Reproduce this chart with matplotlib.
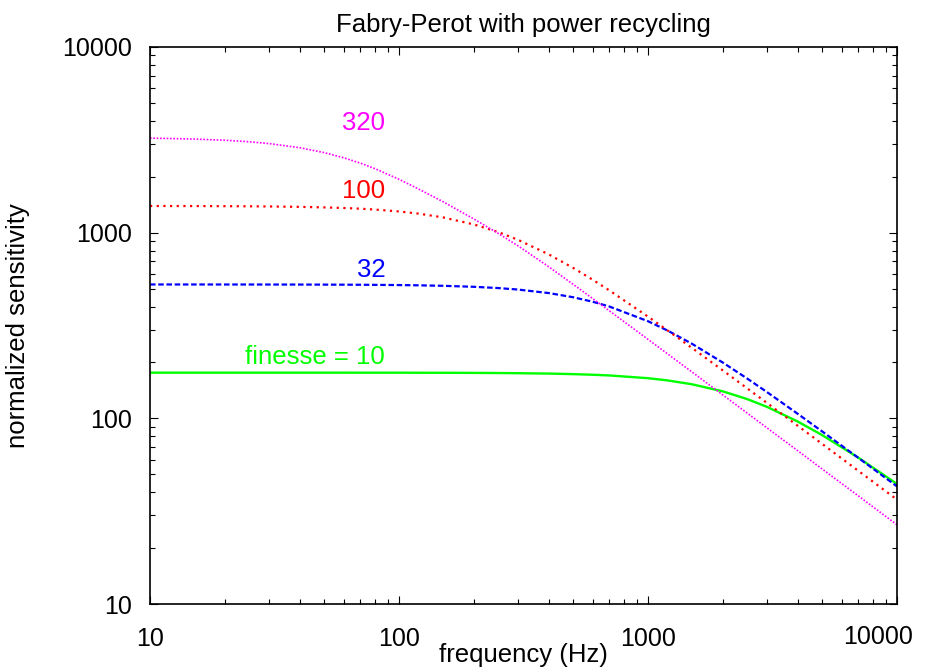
import numpy as np
import matplotlib
matplotlib.use('Agg')
import matplotlib.pyplot as plt
from matplotlib.ticker import LogLocator, FixedLocator, FixedFormatter, NullFormatter

plt.rcParams['font.family'] = ['Liberation Sans', 'DejaVu Sans']

# frequency points (Hz)
freq = [10, 15, 20, 25, 30, 40, 50, 60, 70, 80, 100, 120, 150, 200, 250, 300,
        400, 500, 600, 700, 1000, 1200, 1500, 2000, 2500, 3000, 4000, 5000, 7000, 10000]

# sensitivity
sens_10 = [176.2, 176.2, 176.2, 176.2, 176.2, 176.2, 176.2, 176.2, 176.1, 176.1, 176.1, 176.0,
           175.9, 175.7, 175.4, 175.0, 174.2, 173.0, 171.7, 170.2, 164.5, 160.0, 152.6, 139.7,
           127.0, 115.4, 96.0, 81.3, 61.35, 44.3]
sens_32 = [526, 526, 525.8, 525.8, 525.6, 525.4, 525.0, 524.6, 524.1, 523.5, 522.1, 520.5,
           517.4, 511.0, 503.1, 494.0, 472.7, 449.1, 424.5, 400.0, 333.5, 296.8, 252.3, 199.5,
           163.9, 138.7, 105.6, 85.1, 61.2, 43.0]
sens_100 = [1392, 1391, 1389, 1387, 1384, 1377, 1368, 1358, 1346, 1332, 1301, 1266,
            1209, 1107, 1008, 916.3, 763.2, 646.6, 557.4, 488.3, 353.0, 297.1, 239.7, 180.9,
            145.2, 121.2, 91.05, 72.9, 52.1, 36.5]
sens_320 = [3230, 3194, 3146, 3088, 3020, 2867, 2700, 2531, 2368, 2213, 1939, 1717,
            1470, 1184, 992, 850.8, 654.5, 527.4, 441.3, 379.2, 266.3, 222.2, 177.9, 133.5,
            106.8, 89.0, 66.8, 53.4, 38.2, 26.7]

ticks = [10, 100, 1000, 10000]
xtick_labels = ['10', '100', '1000', '']   # last one is drawn by hand, shifted left
ytick_labels = ['10', '100', '1000', '10000']

fig = plt.figure(figsize=(9.36, 6.68), dpi=100)
ax = fig.add_axes([150/936, 64/668, 747/936, 557/668])

ax.plot(freq, sens_10, color='#00ff00', lw=1.7, ls='-')
ax.plot(freq, sens_32, color='#0000ff', lw=1.6, dashes=(2.5, 1.2))
ax.plot(freq, sens_100, color='#ff0000', lw=1.6, dashes=(1, 2))
ax.plot(freq, sens_320, color='#ff00ff', lw=1.2, dashes=(1, 1))

ax.set_xscale('log')
ax.set_yscale('log')
ax.set_xlim(10, 10000)
ax.set_ylim(10, 10000)

ax.xaxis.set_major_locator(FixedLocator(ticks))
ax.xaxis.set_major_formatter(FixedFormatter(xtick_labels))
ax.yaxis.set_major_locator(FixedLocator(ticks))
ax.yaxis.set_major_formatter(FixedFormatter(ytick_labels))
for a in (ax.xaxis, ax.yaxis):
    a.set_minor_locator(LogLocator(base=10, subs=np.arange(2, 10)))
    a.set_minor_formatter(NullFormatter())

ax.tick_params(which='both', direction='in', top=True, right=True, labelsize=18, width=0.8)
ax.tick_params(which='major', length=6)
ax.tick_params(which='minor', length=3.5)
ax.tick_params(axis='x', pad=16.5)
ax.tick_params(axis='y', pad=13)
for s in ax.spines.values():
    s.set_linewidth(1.2)

ax.annotate('10000', xy=(10000, 0), xycoords=('data', 'axes fraction'),
            xytext=(-19, -33), textcoords='offset pixels',
            ha='center', va='center', fontsize=18)

ax.set_xlabel('frequency (Hz)', fontsize=18.5, va='center')
ax.xaxis.set_label_coords(0.5, -0.0916)
ax.set_ylabel('normalized sensitivity', fontsize=18.5, va='center')
ax.yaxis.set_label_coords(-0.1767, 0.5)
ax.set_title('Fabry-Perot with power recycling', fontsize=18.5, pad=11)

ax.text(72.2, 3903, '320', color='#ff00ff', fontsize=18.5, ha='center', va='center')
ax.text(72.2, 1682, '100', color='#ff0000', fontsize=18.5, ha='center', va='center')
ax.text(77.6, 632, '32', color='#0000ff', fontsize=18.5, ha='center', va='center')
ax.text(45.8, 213, 'finesse = 10', color='#00ff00', fontsize=18.5, ha='center', va='center')

fig.savefig('out.png', dpi=100)
